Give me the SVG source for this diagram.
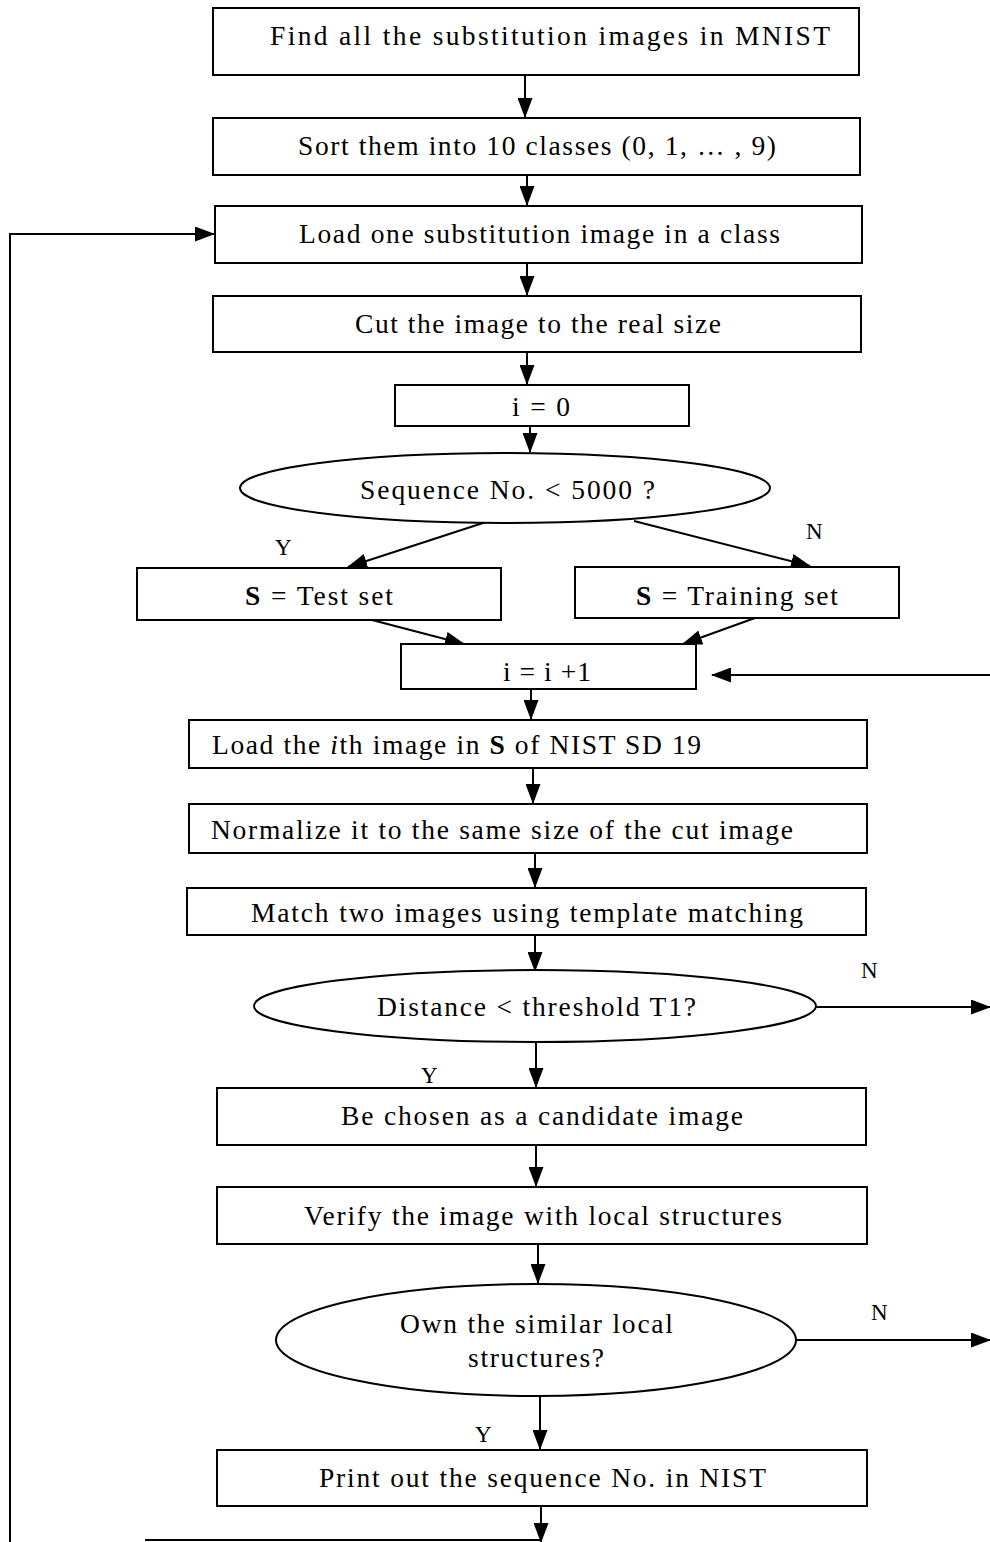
<svg xmlns="http://www.w3.org/2000/svg" width="990" height="1542" viewBox="0 0 990 1542">
  <style>
    .box { fill: #fff; stroke: #000; stroke-width: 2; }
    .dec { fill: #fff; stroke: #000; stroke-width: 2; }
    .lbl { font-family: "Liberation Serif", "Times New Roman", serif; font-size: 27.5px; fill: #000; }
    .yn { font-family: "Liberation Serif", "Times New Roman", serif; font-size: 23px; fill: #000; }
    .wire { fill: none; stroke: #000; stroke-width: 2; }
    .arr { marker-end: url(#head); }
  </style>
  <defs>
    <marker id="head" markerUnits="userSpaceOnUse" markerWidth="20" markerHeight="15" viewBox="0 0 20 15" refX="19" refY="7.5" orient="auto">
      <path d="M0,0 L20,7.5 L0,15 z" fill="#000"/>
    </marker>
  </defs>

  <rect width="990" height="1542" fill="#fff"/>

  <!-- connectors -->
  <g id="connectors">
    <line class="wire arr" x1="525" y1="75" x2="525" y2="117"/>
    <line class="wire arr" x1="527" y1="175" x2="527" y2="205"/>
    <line class="wire arr" x1="527" y1="263" x2="527" y2="295"/>
    <line class="wire arr" x1="527" y1="352" x2="527" y2="384"/>
    <line class="wire arr" x1="530" y1="426" x2="530" y2="452"/>
    <line class="wire arr" x1="486" y1="522" x2="348" y2="567"/>
    <line class="wire arr" x1="634" y1="521" x2="810" y2="566"/>
    <line class="wire arr" x1="372" y1="620" x2="464" y2="644"/>
    <line class="wire arr" x1="755" y1="618" x2="683" y2="644"/>
    <line class="wire arr" x1="990" y1="675" x2="712" y2="675"/>
    <line class="wire arr" x1="531" y1="689" x2="531" y2="719"/>
    <line class="wire arr" x1="533" y1="768" x2="533" y2="803"/>
    <line class="wire arr" x1="535" y1="853" x2="535" y2="887"/>
    <line class="wire arr" x1="535" y1="935" x2="535" y2="971"/>
    <line class="wire arr" x1="816" y1="1007" x2="990" y2="1007"/>
    <line class="wire arr" x1="536" y1="1042" x2="536" y2="1087"/>
    <line class="wire arr" x1="536" y1="1145" x2="536" y2="1186"/>
    <line class="wire arr" x1="538" y1="1244" x2="538" y2="1283"/>
    <line class="wire arr" x1="796" y1="1340" x2="990" y2="1340"/>
    <line class="wire arr" x1="540" y1="1396" x2="540" y2="1449"/>
    <line class="wire arr" x1="541" y1="1506" x2="541" y2="1542"/>
    <line class="wire" x1="145" y1="1540" x2="541" y2="1540"/>
    <polyline class="wire arr" points="10,1542 10,234 214,234"/>
  </g>

  <g id="find">
    <rect class="box" x="213" y="8" width="646" height="67"/>
    <text class="lbl" x="270" y="45" textLength="560" lengthAdjust="spacing">Find all the substitution images in MNIST</text>
  </g>
  <g id="sort">
    <rect class="box" x="213" y="118" width="647" height="57"/>
    <text class="lbl" x="298" y="155" textLength="478" lengthAdjust="spacing">Sort them into 10 classes (0, 1, … , 9)</text>
  </g>
  <g id="load-class">
    <rect class="box" x="215" y="206" width="647" height="57"/>
    <text class="lbl" x="299" y="243" textLength="481" lengthAdjust="spacing">Load one substitution image in a class</text>
  </g>
  <g id="cut">
    <rect class="box" x="213" y="296" width="648" height="56"/>
    <text class="lbl" x="355" y="333" textLength="366" lengthAdjust="spacing">Cut the image to the real size</text>
  </g>
  <g id="init">
    <rect class="box" x="395" y="385" width="294" height="41"/>
    <text class="lbl" x="512" y="416" textLength="58" lengthAdjust="spacing">i = 0</text>
  </g>
  <g id="seq-test">
    <ellipse class="dec" cx="505" cy="488" rx="265" ry="35"/>
    <text class="lbl" x="360" y="499" textLength="295" lengthAdjust="spacing">Sequence No. &lt; 5000 ?</text>
  </g>
  <text class="yn" x="275" y="555">Y</text>
  <text class="yn" x="806" y="539">N</text>
  <g id="test-set">
    <rect class="box" x="137" y="568" width="364" height="52"/>
    <text class="lbl" x="245" y="605" textLength="148" lengthAdjust="spacing"><tspan font-weight="bold">S</tspan> = Test set</text>
  </g>
  <g id="training-set">
    <rect class="box" x="575" y="567" width="324" height="51"/>
    <text class="lbl" x="636" y="605" textLength="202" lengthAdjust="spacing"><tspan font-weight="bold">S</tspan> = Training set</text>
  </g>
  <g id="increment">
    <rect class="box" x="401" y="644" width="295" height="45"/>
    <text class="lbl" x="503" y="681" textLength="88" lengthAdjust="spacing">i = i +1</text>
  </g>
  <g id="load-nist">
    <rect class="box" x="189" y="720" width="678" height="48"/>
    <text class="lbl" x="212" y="754" textLength="489" lengthAdjust="spacing">Load the <tspan font-style="italic">i</tspan>th image in <tspan font-weight="bold">S</tspan> of NIST SD 19</text>
  </g>
  <g id="normalize">
    <rect class="box" x="189" y="804" width="678" height="49"/>
    <text class="lbl" x="211" y="839" textLength="582" lengthAdjust="spacing">Normalize it to the same size of the cut image</text>
  </g>
  <g id="match">
    <rect class="box" x="187" y="888" width="679" height="47"/>
    <text class="lbl" x="251" y="922" textLength="552" lengthAdjust="spacing">Match two images using template matching</text>
  </g>
  <g id="distance-test">
    <ellipse class="dec" cx="535" cy="1006" rx="281" ry="36"/>
    <text class="lbl" x="377" y="1016" textLength="319" lengthAdjust="spacing">Distance &lt; threshold T1?</text>
  </g>
  <text class="yn" x="861" y="978">N</text>
  <text class="yn" x="421" y="1083">Y</text>
  <g id="candidate">
    <rect class="box" x="217" y="1088" width="649" height="57"/>
    <text class="lbl" x="341" y="1125" textLength="402" lengthAdjust="spacing">Be chosen as a candidate image</text>
  </g>
  <g id="verify">
    <rect class="box" x="217" y="1187" width="650" height="57"/>
    <text class="lbl" x="304" y="1225" textLength="478" lengthAdjust="spacing">Verify the image with local structures</text>
  </g>
  <g id="local-test">
    <ellipse class="dec" cx="536" cy="1340" rx="260" ry="56"/>
    <text class="lbl" x="400" y="1333" textLength="273" lengthAdjust="spacing">Own the similar local</text>
    <text class="lbl" x="468" y="1367" textLength="136" lengthAdjust="spacing">structures?</text>
  </g>
  <text class="yn" x="871" y="1320">N</text>
  <text class="yn" x="475" y="1442">Y</text>
  <g id="print">
    <rect class="box" x="217" y="1450" width="650" height="56"/>
    <text class="lbl" x="319" y="1487" textLength="447" lengthAdjust="spacing">Print out the sequence No. in NIST</text>
  </g>
</svg>
